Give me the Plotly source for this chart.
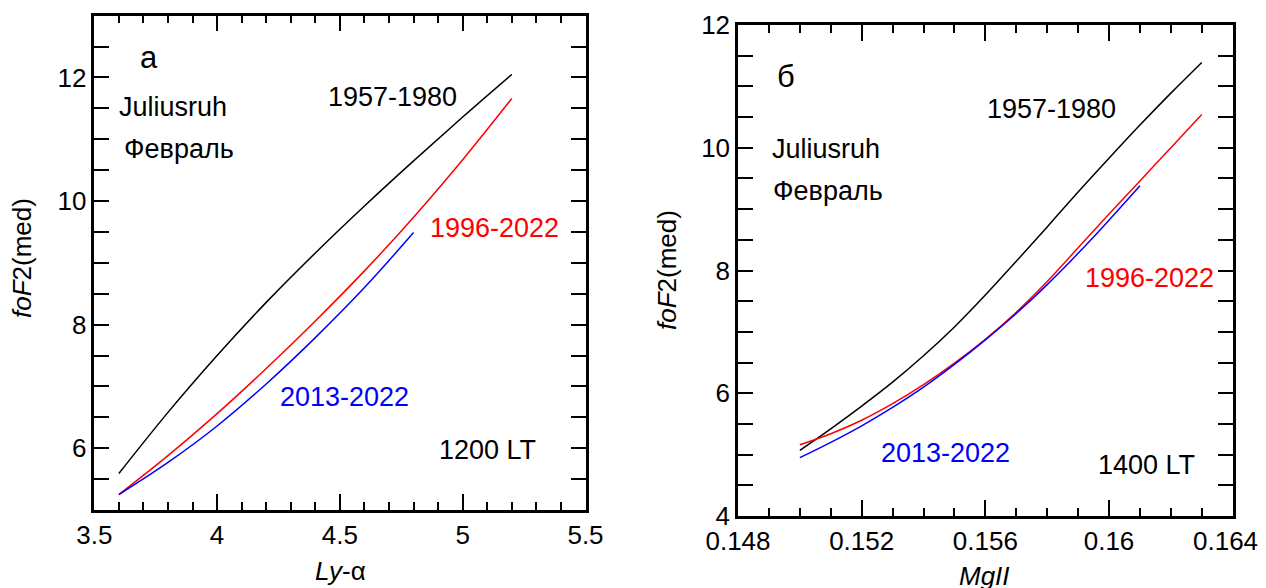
import plotly.graph_objects as go

# ---- Panel a (Ly-alpha, 1200 LT) ----
lya_x_1957 = [3.6, 3.8, 4.0, 4.2, 4.4, 4.6, 4.8, 5.0, 5.2]
lya_y_1957 = [5.59, 6.58, 7.50, 8.36, 9.16, 9.92, 10.65, 11.36, 12.05]
lya_x_1996 = [3.6, 3.8, 4.0, 4.2, 4.4, 4.6, 4.8, 5.0, 5.2]
lya_y_1996 = [5.25, 5.88, 6.56, 7.29, 8.06, 8.87, 9.74, 10.67, 11.66]
lya_x_2013 = [3.6, 3.8, 4.0, 4.2, 4.4, 4.6, 4.8]
lya_y_2013 = [5.25, 5.77, 6.36, 7.04, 7.79, 8.60, 9.49]

# ---- Panel б (MgII, 1400 LT) ----
mg_x_1957 = [0.150, 0.151, 0.152, 0.153, 0.154, 0.155, 0.156, 0.157, 0.158,
             0.159, 0.160, 0.161, 0.162, 0.163]
mg_y_1957 = [5.07, 5.42, 5.79, 6.18, 6.61, 7.08, 7.60, 8.15, 8.71,
             9.28, 9.83, 10.37, 10.89, 11.39]
mg_x_1996 = [0.150, 0.151, 0.152, 0.153, 0.154, 0.155, 0.156, 0.157, 0.158,
             0.159, 0.160, 0.161, 0.162, 0.163]
mg_y_1996 = [5.16, 5.34, 5.56, 5.83, 6.14, 6.49, 6.88, 7.32, 7.82,
             8.37, 8.92, 9.46, 10.0, 10.54]
mg_x_2013 = [0.150, 0.151, 0.152, 0.153, 0.154, 0.155, 0.156, 0.157, 0.158,
             0.159, 0.160, 0.161]
mg_y_2013 = [4.95, 5.20, 5.47, 5.77, 6.10, 6.47, 6.87, 7.30, 7.77,
             8.28, 8.82, 9.38]

lya_ticks = [3.5, 4, 4.5, 5, 5.5]
lya_ticktext = ["3.5", "4", "4.5", "5", "5.5"]
mg_ticks = [0.148, 0.152, 0.156, 0.160, 0.164]
mg_ticktext = ["0.148", "0.152", "0.156", "0.16", ""]   # last label placed as text below
mg_last_label = "0.164"

# page body has an 8px margin: figure origin sits at (8, 8) in the window
OFF = 8
W, H = 1266, 588
FONT = "Arial, Liberation Sans, sans-serif"
FS = 26
AFS = 27

def px(x):
    return (x - OFF) / W

def py(y):
    return 1 - (y - OFF) / H

fig = go.Figure()
lw = 1.5
fig.add_trace(go.Scatter(x=lya_x_1957, y=lya_y_1957, mode="lines", line=dict(color="black", width=lw, shape="spline"), xaxis="x", yaxis="y"))
fig.add_trace(go.Scatter(x=lya_x_1996, y=lya_y_1996, mode="lines", line=dict(color="red", width=lw, shape="spline"), xaxis="x", yaxis="y"))
fig.add_trace(go.Scatter(x=lya_x_2013, y=lya_y_2013, mode="lines", line=dict(color="blue", width=lw, shape="spline"), xaxis="x", yaxis="y"))
fig.add_trace(go.Scatter(x=mg_x_1957, y=mg_y_1957, mode="lines", line=dict(color="black", width=lw, shape="spline"), xaxis="x2", yaxis="y2"))
fig.add_trace(go.Scatter(x=mg_x_1996, y=mg_y_1996, mode="lines", line=dict(color="red", width=lw, shape="spline"), xaxis="x2", yaxis="y2"))
fig.add_trace(go.Scatter(x=mg_x_2013, y=mg_y_2013, mode="lines", line=dict(color="blue", width=lw, shape="spline"), xaxis="x2", yaxis="y2"))

common_axis = dict(showgrid=False, zeroline=False, showline=True, linecolor="black",
                   linewidth=2.5, mirror="ticks", ticks="inside", tickcolor="black",
                   tickwidth=1.5, automargin=False, ticklabeloverflow="allow",
                   tickfont=dict(family=FONT, size=FS, color="black"))

fig.update_layout(
    width=W, height=H, margin=dict(l=0, r=0, t=0, b=0, autoexpand=False),
    paper_bgcolor="white", plot_bgcolor="white", showlegend=False,
    xaxis=dict(common_axis, domain=[px(94.3), px(585.5)], range=[3.5, 5.5],
               tickvals=lya_ticks, ticktext=lya_ticktext,
               ticklen=16, minor=dict(dtick=0.1, ticklen=8, tickwidth=1.5, ticks="inside", tickcolor="black"),
               anchor="y"),
    yaxis=dict(common_axis, domain=[py(510), py(15.7)], range=[5, 13],
               tickvals=[6, 8, 10, 12], ticklen=15,
               minor=dict(dtick=0.5, ticklen=15, tickwidth=1.5, ticks="inside", tickcolor="black"),
               anchor="x"),
    xaxis2=dict(common_axis, domain=[px(738), px(1232.7)], range=[0.148, 0.164],
                tickvals=mg_ticks, ticktext=mg_ticktext,
                ticklen=16, minor=dict(dtick=0.001, ticklen=8, tickwidth=1.5, ticks="inside", tickcolor="black"),
                anchor="y2"),
    yaxis2=dict(common_axis, domain=[py(516), py(25)], range=[4, 12],
                tickvals=[4, 6, 8, 10, 12], ticklen=15,
                minor=dict(dtick=0.5, ticklen=15, tickwidth=1.5, ticks="inside", tickcolor="black"),
                anchor="x2"),
)

def ann(text, x, y, color="black", size=AFS, angle=0):
    fig.add_annotation(text=text, x=px(x), y=py(y), xref="paper", yref="paper",
                       showarrow=False, xanchor="center", yanchor="middle",
                       textangle=angle, font=dict(family=FONT, size=size, color=color))

# panel a texts
ann("а", 149, 58, size=31)
ann("Juliusruh", 173, 107)
ann("Февраль", 179, 149)
ann("1957-1980", 392, 97)
ann("1996-2022", 494, 228, color="red")
ann("2013-2022", 344, 397, color="blue")
ann("1200 LT", 487, 450)
ann("<i>Ly</i>-α", 340, 571, size=FS)
ann("<i>foF</i>2(med)", 22, 258, angle=-90, size=FS)

# panel б texts
ann("б", 786, 76, size=31)
ann("1957-1980", 1051, 109)
ann("Juliusruh", 826, 149)
ann("Февраль", 828, 191)
ann("1996-2022", 1149, 278, color="red")
ann("2013-2022", 945, 453, color="blue")
ann("1400 LT", 1146, 465)
ann("<i>MgII</i>", 984, 576, size=FS)
ann("<i>foF</i>2(med)", 667, 270, angle=-90, size=FS)
ann(mg_last_label, 1225, 541, size=FS)

fig.write_html("out.html")
